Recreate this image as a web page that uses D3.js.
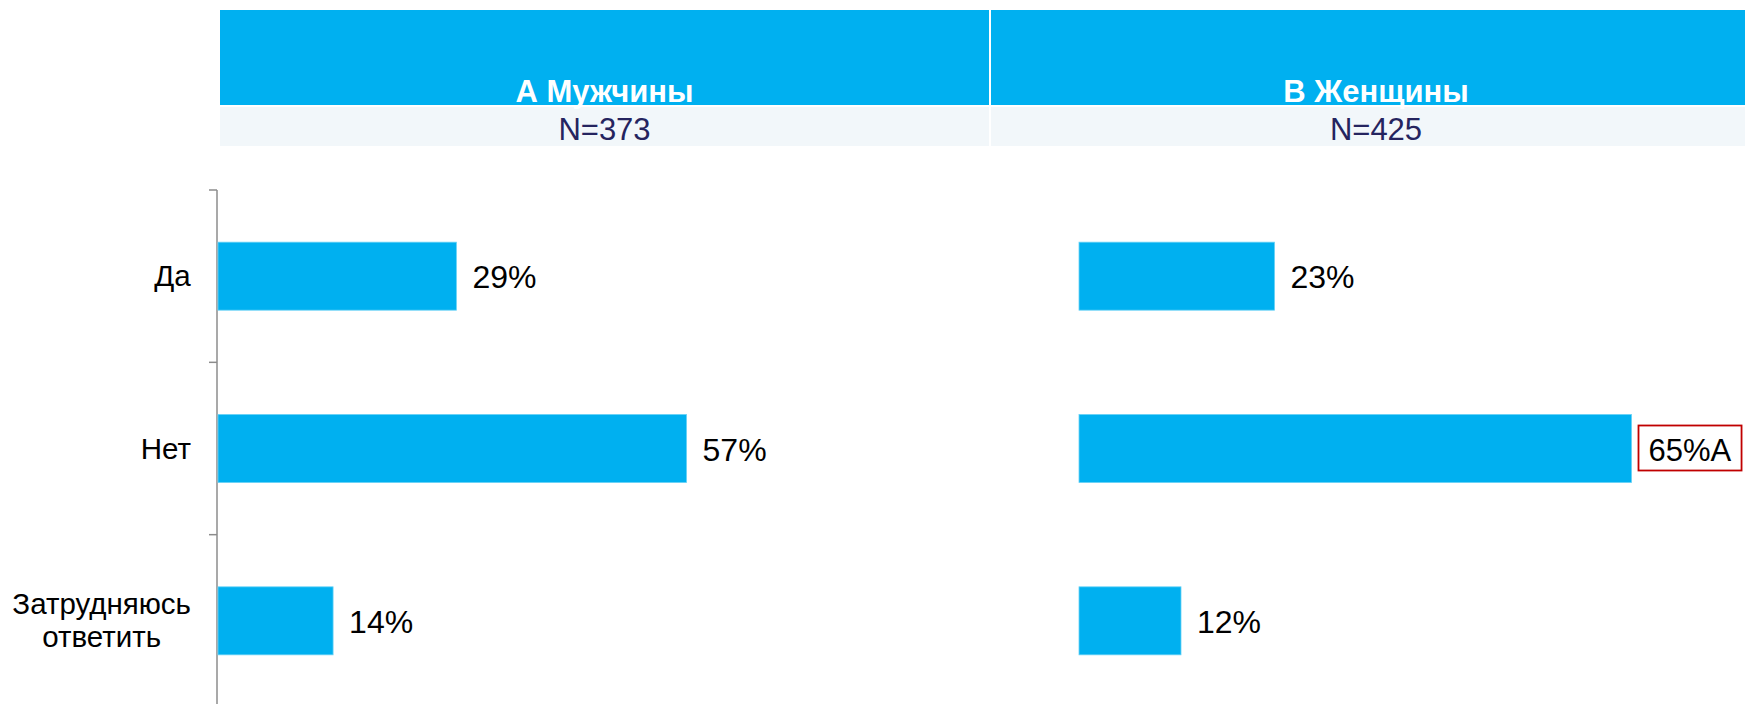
<!DOCTYPE html>
<html>
<head>
<meta charset="utf-8">
<script src="https://cdn.jsdelivr.net/npm/d3@7"></script>
<style>
	body { margin: 0; background: #fff; }
	svg { display: block; font-family: 'Liberation Sans', Arial, sans-serif; }
</style>
</head>
<body>
<svg id="chart" width="1745" height="704"></svg>
<script>
// data
const categories = ['Да', 'Нет', 'Затрудняюсь ответить']
const groups = ['А Мужчины', 'В Женщины']
const sampleSizes = ['N=373', 'N=425']
const menValues = [29, 57, 14]
const womenValues = [23, 65, 12]
// significance letters (women higher than column A)
const menSig = ['', '', '']
const womenSig = ['', 'A', '']

const blue = '#00b0f0'
const svg = d3.select('#chart')

//Panel layout: header cell, bar origin and width of a 100% bar
const panels = [
	{ cellX: 220, cellW: 769, barX: 218, full: 822, values: menValues, sig: menSig },
	{ cellX: 991, cellW: 770, barX: 1079, full: 850, values: womenValues, sig: womenSig },
]

//Header bands
const header = svg.append('g')
panels.forEach((p, i) => {
	header.append('rect').attr('x', p.cellX).attr('y', 10).attr('width', p.cellW).attr('height', 95).attr('fill', blue)
	header.append('rect').attr('x', p.cellX).attr('y', 107).attr('width', p.cellW).attr('height', 39).attr('fill', '#f2f7fa')

	header
		.append('text')
		.attr('x', p.cellX + p.cellW / 2)
		.attr('y', 102)
		.attr('text-anchor', 'middle')
		.attr('fill', '#fff')
		.style('font-weight', 'bold')
		.style('font-size', '31px')
		.text(groups[i])

	header
		.append('text')
		.attr('x', p.cellX + p.cellW / 2)
		.attr('y', 140)
		.attr('text-anchor', 'middle')
		.attr('fill', '#25245f')
		.style('font-size', '31px')
		.text(sampleSizes[i])
})

//Category scale: band boundaries carry the ticks
const y = d3.scaleBand().domain(categories).range([190, 707])
const barH = 68

//Left axis with ticks at band boundaries
const axisX = 217
svg.append('line')
	.attr('x1', axisX).attr('x2', axisX)
	.attr('y1', y.range()[0]).attr('y2', 704)
	.attr('stroke', '#8c8c8c').attr('stroke-width', 1.5)

svg.selectAll('.tick')
	.data(categories)
	.enter()
	.append('line')
	.attr('x1', axisX - 8).attr('x2', axisX)
	.attr('y1', d => y(d)).attr('y2', d => y(d))
	.attr('stroke', '#8c8c8c').attr('stroke-width', 1.5)

//Category labels: block right aligned, lines centred in the block
categories.forEach(c => {
	const lines = c.split(' ')
	const cy = y(c) + y.bandwidth() / 2
	const g = svg.append('g')
	const t = g.append('text').attr('text-anchor', 'middle').attr('fill', '#000').style('font-size', '29.5px')
	lines.forEach((l, i) => {
		t.append('tspan').attr('x', 0).attr('y', (i - (lines.length - 1) / 2) * 33 + 10).text(l)
	})
	const w = t.node().getBBox().width
	g.attr('transform', 'translate(' + (191 - w / 2) + ',' + cy + ')')
})

//Bars and value labels per panel
panels.forEach(p => {
	const x = d3.scaleLinear().domain([0, 100]).range([p.barX, p.barX + p.full])
	const g = svg.append('g')

	g.selectAll('rect')
		.data(p.values)
		.enter()
		.append('rect')
		.attr('x', x(0))
		.attr('y', (d, i) => y(categories[i]) + (y.bandwidth() - barH) / 2)
		.attr('width', d => x(d) - x(0))
		.attr('height', barH)
		.attr('fill', blue)
		.attr('stroke', '#66d2f6')
		.attr('stroke-width', 0.8)

	p.values.forEach((d, i) => {
		const cy = y(categories[i]) + y.bandwidth() / 2
		const sig = p.sig[i]
		const lx = x(d) + (sig ? 17 : 16)
		const label = g
			.append('text')
			.attr('x', lx)
			.attr('y', cy + 12)
			.attr('fill', '#000')
			.style('font-size', sig ? '31px' : '32px')
			.text(d + '%' + sig)

		if (sig) {
			const box = label.node().getBBox()
			g.append('rect')
				.attr('x', x(d) + 7)
				.attr('y', cy - 23)
				.attr('width', box.width + 20)
				.attr('height', 45)
				.attr('fill', 'none')
				.attr('stroke', '#c00000')
				.attr('stroke-width', 1.8)
		}
	})
})
</script>
</body>
</html>
